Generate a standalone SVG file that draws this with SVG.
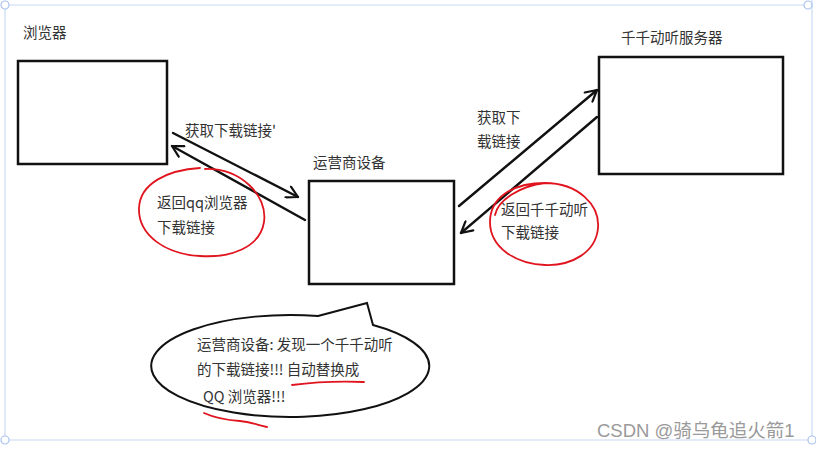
<svg xmlns="http://www.w3.org/2000/svg" width="816" height="450" viewBox="0 0 816 450">
<style>
.t{font-family:"Noto Sans CJK SC","Liberation Sans",sans-serif;font-size:14.5px;fill:#333}
.box{fill:#fff;stroke:#111;stroke-width:2.5}
.ln{fill:none;stroke:#111;stroke-width:2.4;stroke-linecap:round}
.red{fill:none;stroke:#e0141e;stroke-width:1.8;stroke-linecap:round}
.frame{fill:none;stroke:#c9daf5;stroke-width:1.2}
.h{fill:#fff;stroke:#a9c2ee;stroke-width:1.2}
.wm{font-family:"Liberation Sans","Noto Sans CJK SC",sans-serif;font-size:18.5px;fill:#9a9a9a}
</style>
<defs>
<marker id="ah" viewBox="0 0 14 14" refX="13" refY="7" markerWidth="14" markerHeight="14" markerUnits="userSpaceOnUse" orient="auto">
<path d="M2,1 L13,7 L2,13" fill="none" stroke="#111" stroke-width="2.2" stroke-linecap="round" stroke-linejoin="round"/>
</marker>
</defs>
<rect width="816" height="450" fill="#fff"/>
<g id="frame">
<path class="frame" d="M5,5 H809 M5,5 V440 H812 M812,0 V440"/>
<circle class="h" cx="5" cy="5" r="4"/>
<circle class="h" cx="808" cy="5" r="4"/>
<circle class="h" cx="5" cy="440" r="4"/>
<circle class="h" cx="812" cy="440" r="4"/>
</g>
<g id="browser">
<text class="t" x="23" y="38">浏览器</text>
<rect class="box" x="18" y="61" width="149" height="103"/>
</g>
<g id="carrier">
<text class="t" x="313" y="168">运营商设备</text>
<rect class="box" x="309" y="181" width="145" height="103"/>
</g>
<g id="server">
<text class="t" x="621" y="43">千千动听服务器</text>
<rect class="box" x="599" y="57" width="184" height="117"/>
</g>
<g id="connectors">
<line class="ln" x1="173" y1="133" x2="298" y2="197" marker-end="url(#ah)"/>
<line class="ln" x1="305" y1="220" x2="172" y2="146" marker-end="url(#ah)"/>
<line class="ln" x1="459" y1="206" x2="597" y2="90" marker-end="url(#ah)"/>
<line class="ln" x1="597" y1="117" x2="461" y2="233" marker-end="url(#ah)"/>
</g>
<g id="labels">
<text class="t" x="185" y="136">获取下载链接'</text>
<text class="t" x="477" y="123">获取下</text>
<text class="t" x="477" y="147">载链接</text>
</g>
<g id="note-left">
<path class="red" d="M205,169 C240,168 268,195 264,222 C260,248 230,258 200,256 C165,254 138,235 139,208 C140,183 168,170 200,168"/>
<text class="t" x="157" y="208">返回qq浏览器</text>
<text class="t" x="157" y="233">下载链接</text>
</g>
<g id="note-right">
<path class="red" d="M545,183 C578,183 600,205 598,228 C596,252 572,266 545,265 C515,264 490,247 490,222 C490,198 512,183 545,183 C520,186 498,200 495,215"/>
<text class="t" x="501" y="215">返回千千动听</text>
<text class="t" x="501" y="238">下载链接</text>
</g>
<g id="bubble">
<path d="M318,316 L367,303 L373,325 A139 51 0 1 1 318,316 Z" fill="#fff" stroke="#111" stroke-width="2"/>
<text class="t" x="197" y="350">运营商设备: 发现一个千千动听</text>
<text class="t" x="197" y="375">的下载链接!!! 自动替换成</text>
<text class="t" x="203" y="402">QQ 浏览器!!!</text>
<path class="red" d="M292,385 C315,382 340,381 364,382"/>
<path class="red" d="M204,413 C215,418 225,420 240,421 C250,422 258,425 267,427"/>
</g>
<text class="wm" x="597" y="437">CSDN @骑乌龟追火箭1</text>
</svg>
